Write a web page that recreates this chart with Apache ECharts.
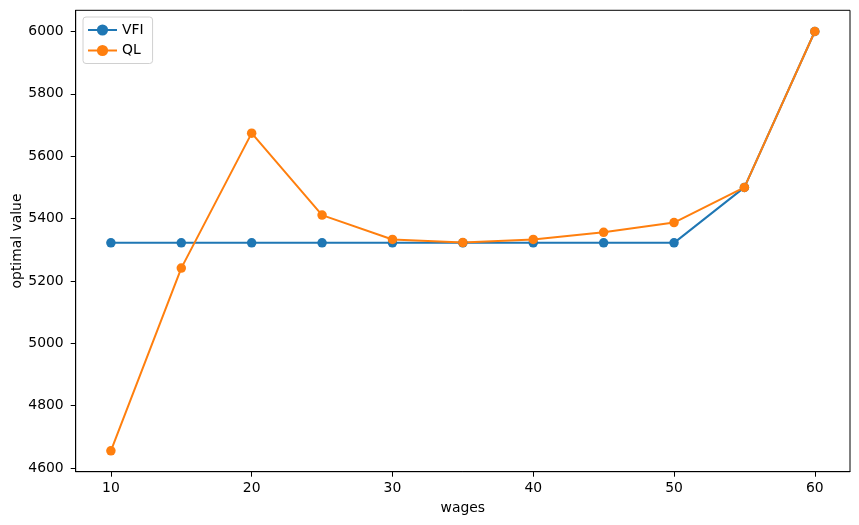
<!DOCTYPE html>
<html>
<head>
<meta charset="utf-8">
<script src="https://cdn.jsdelivr.net/npm/echarts@6/dist/echarts.min.js"></script>
<style>html,body{margin:0;padding:0;background:#fff}#c{width:859px;height:525px}</style>
</head>
<body>
<div id="c"></div>
<script>
const wages = [10, 15, 20, 25, 30, 35, 40, 45, 50, 55, 60];
const vfi = [5322, 5322, 5322, 5322, 5322, 5322, 5322, 5322, 5322, 5500, 6000];
const ql = [4655, 5241, 5674, 5411, 5333, 5323, 5333, 5356, 5387, 5500, 6000];
const xTicks = [10, 20, 30, 40, 50, 60];
const yTicks = [4600, 4800, 5000, 5200, 5400, 5600, 5800, 6000];

const pair = (xs, ys) => xs.map((x, i) => [x, ys[i]]);
const font = 'DejaVu Sans';
const chart = echarts.init(document.getElementById('c'), null, {renderer: 'canvas'});
const axisCommon = {
  axisLine: {show: true, onZero: false, lineStyle: {color: '#000', width: 1}},
  axisTick: {show: true, inside: false, length: 5, lineStyle: {color: '#000', width: 1}},
  splitLine: {show: false},
  nameMoveOverlap: false,
  nameTextStyle: {color: '#000', fontFamily: font, fontSize: 13.9},
};
chart.setOption({
  animation: false,
  backgroundColor: '#fff',
  grid: {left: 75.7, right: 9, top: 10.3, bottom: 53.3, show: true, borderColor: '#000', borderWidth: 1,
         containLabel: false, outerBoundsMode: 'none'},
  legend: {
    left: 83, top: 17, orient: 'vertical',
    borderColor: '#d0d0d0', borderWidth: 1, borderRadius: 3,
    padding: [6, 9, 6, 4], itemGap: 6.5, itemWidth: 29, itemHeight: 14,
    textStyle: {color: '#000', fontFamily: font, fontSize: 13.9},
    data: ['VFI', 'QL']
  },
  xAxis: Object.assign({}, axisCommon, {
    type: 'value', min: 7.5, max: 62.5,
    name: 'wages', nameLocation: 'middle', nameGap: 30,
    axisTick: Object.assign({}, axisCommon.axisTick, {customValues: xTicks}),
    axisLabel: {customValues: xTicks, color: '#000', fontFamily: font, fontSize: 13.9, margin: 10,
                formatter: v => String(v)}
  }),
  yAxis: Object.assign({}, axisCommon, {
    type: 'value', min: 4588, max: 6068,
    name: 'optimal value', nameLocation: 'middle', nameGap: 51, nameRotate: 90,
    axisTick: Object.assign({}, axisCommon.axisTick, {customValues: yTicks}),
    axisLabel: {customValues: yTicks, color: '#000', fontFamily: font, fontSize: 13.9, margin: 12,
                formatter: v => String(v)}
  }),
  series: [
    {name: 'VFI', type: 'line', data: pair(wages, vfi), color: '#1f77b4',
     symbol: 'circle', symbolSize: 9.5, showAllSymbol: true,
     lineStyle: {width: 2, color: '#1f77b4'}, itemStyle: {color: '#1f77b4'}},
    {name: 'QL', type: 'line', data: pair(wages, ql), color: '#ff7f0e',
     symbol: 'circle', symbolSize: 9.5, showAllSymbol: true,
     lineStyle: {width: 2, color: '#ff7f0e'}, itemStyle: {color: '#ff7f0e'}}
  ]
});
</script>
</body>
</html>
